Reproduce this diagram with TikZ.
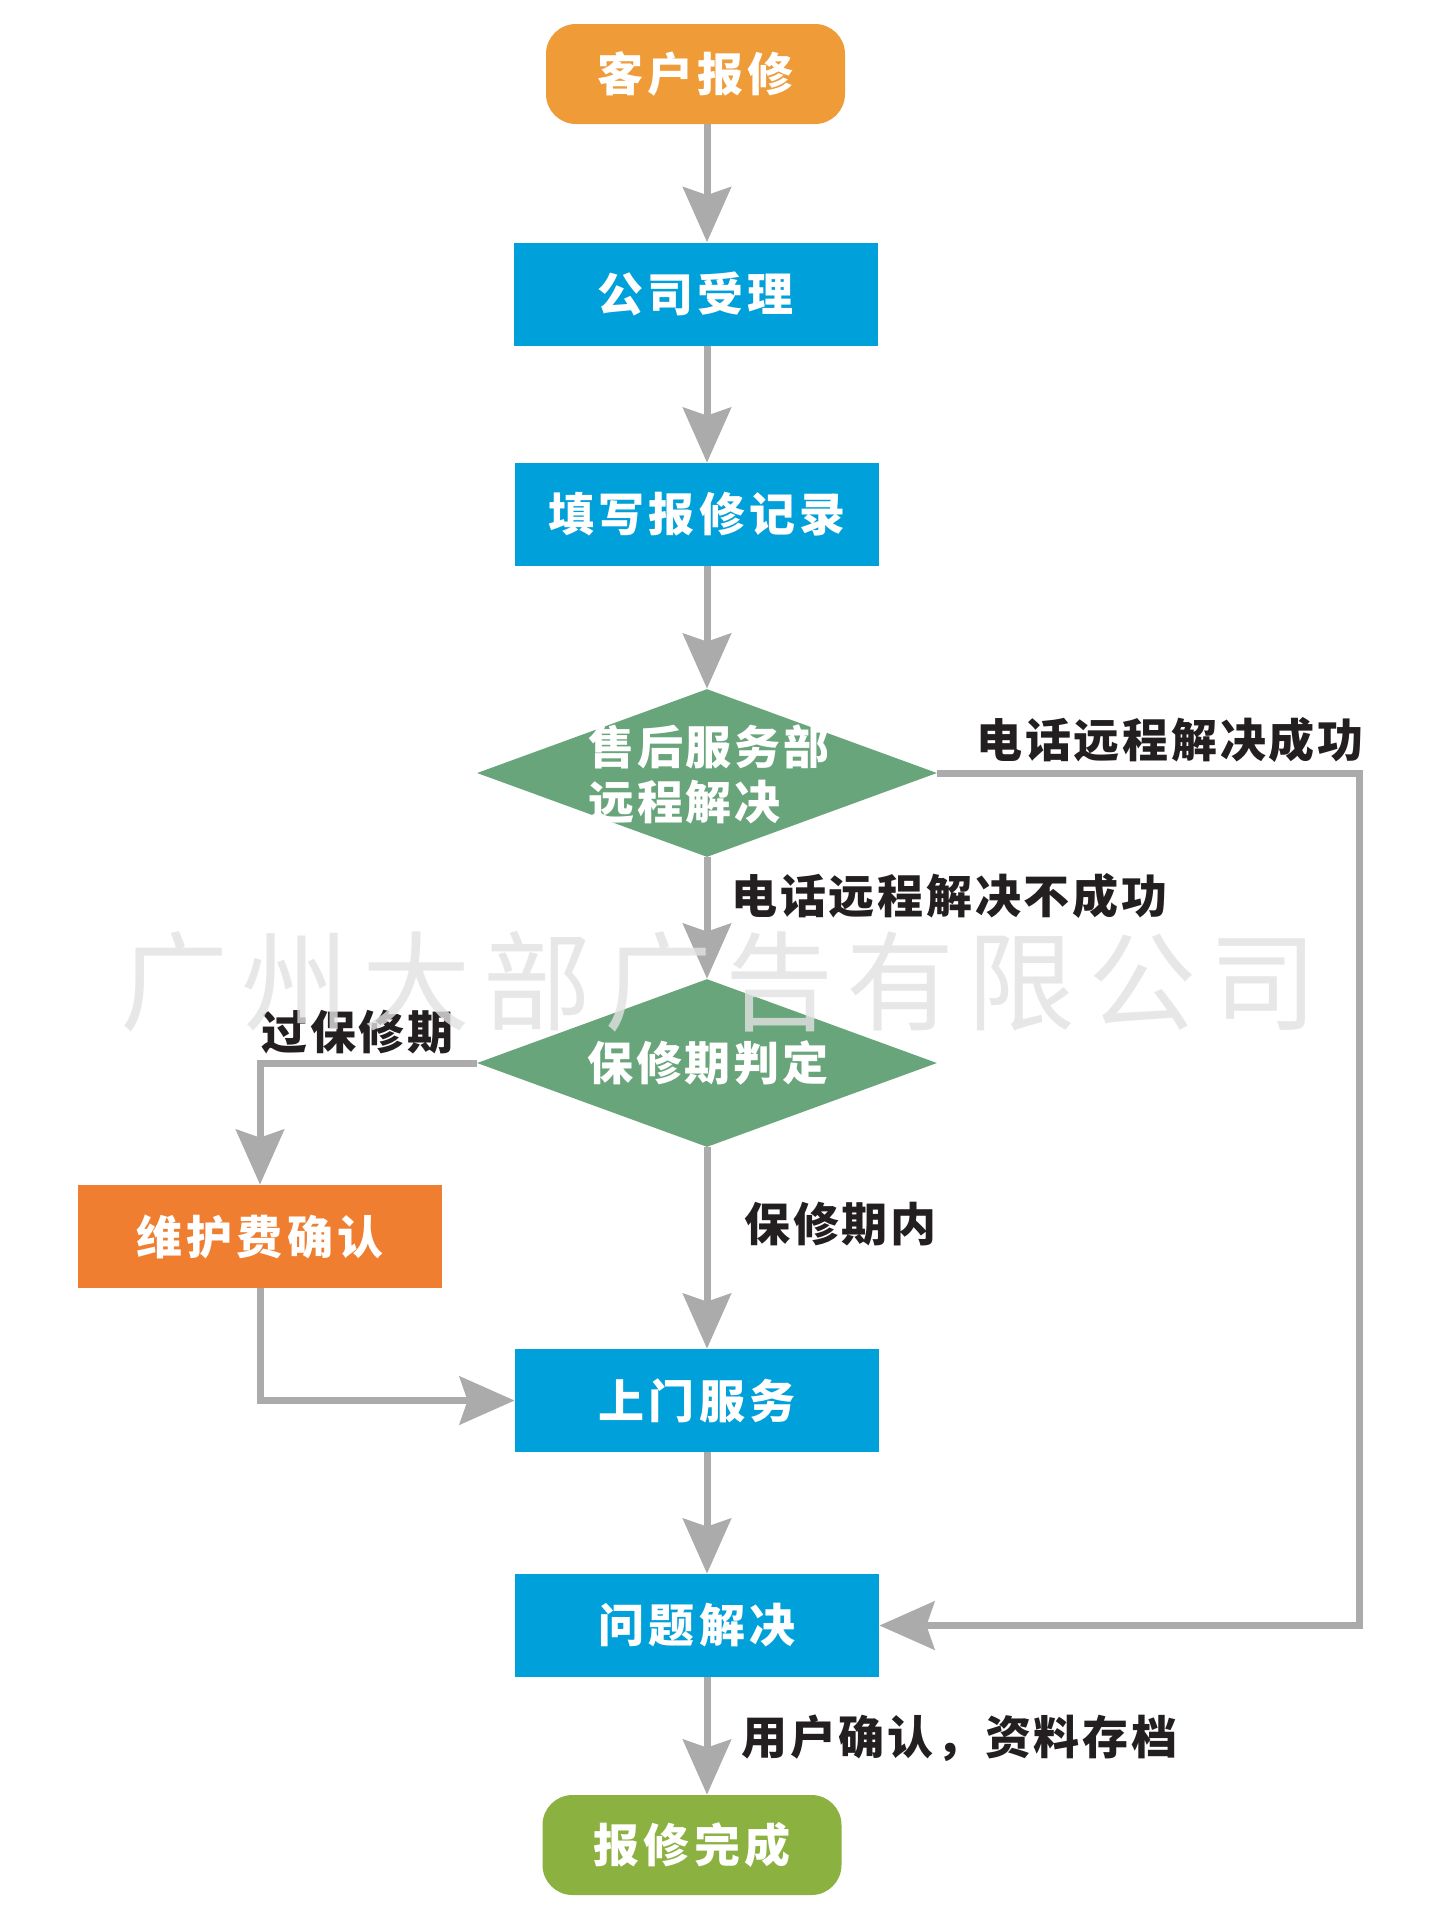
\documentclass[tikz,border=0pt]{standalone}
\usepackage{fontspec}
\usetikzlibrary{arrows.meta,shapes.geometric}
\newfontfamily\cjkbox{Noto Sans CJK SC}[LetterSpace=9]
\newfontfamily\cjklab{Noto Sans CJK SC}[LetterSpace=6]
\newfontfamily\cjkwm{Noto Sans CJK SC}[LetterSpace=12]
\definecolor{cStart}{HTML}{EF9B38}
\definecolor{cBlue}{HTML}{00A0DA}
\definecolor{cDia}{HTML}{69A57B}
\definecolor{cFee}{HTML}{F07E30}
\definecolor{cEnd}{HTML}{8BB140}
\definecolor{cLine}{HTML}{ABABAB}
\definecolor{cText}{HTML}{231F20}
\definecolor{cWm}{HTML}{E2E2E2}
\begin{document}
\begin{tikzpicture}[x=0.5pt,y=-0.5pt,
  box/.style={rectangle, inner sep=0, minimum width=182pt, minimum height=51.5pt, fill=cBlue, text=white, font=\cjkbox\bfseries\fontsize{23}{27}\selectfont},
  rbox/.style={box, rounded corners=15pt, minimum width=149.5pt, minimum height=50pt},
  dia/.style={diamond, aspect=2.738, inner sep=0, minimum width=230pt, minimum height=84pt, fill=cDia},
  diatext/.style={inner sep=0, text=white, font=\cjklab\bfseries\fontsize{23}{27.5}\selectfont},
  lab/.style={inner sep=0, anchor=west, text=cText, font=\cjklab\bfseries\fontsize{23}{27}\selectfont},
  arr/.style={draw=cLine, line width=3.5pt, -{Stealth[length=27.5pt, width=24pt, inset=4pt]}},
  wm/.style={inner sep=0, font=\cjkwm\fontsize{54}{60}\selectfont}
]
\path[use as bounding box, fill=white] (0,0) rectangle (1441,1919);

% nodes
\node[rbox, fill=cStart] (start) at (695.5,74) {客户报修};
\node[box] (accept) at (695.5,294) {公司受理};
\node[box] (record) at (697,514.5) {填写报修记录};
\node[dia] (d1) at (707,773) {};
\node[diatext, align=left] (d1t) at (709,774) {售后服务部\\远程解决};
\node[dia] (d2) at (707,1063) {};
\node[diatext] (d2t) at (708,1063) {保修期判定};
\node[box, fill=cFee] (fee) at (260,1236.5) {维护费确认};
\node[box] (visit) at (697,1400.5) {上门服务};
\node[box] (solve) at (697,1625.5) {问题解决};
\node[rbox, fill=cEnd] (done) at (692,1845) {报修完成};

\coordinate (rcol) at (1359,773);

% connectors
\draw[arr] (start.south -| d1.center) -- (accept.north -| d1.center);
\draw[arr] (accept.south -| d1.center) -- (record.north -| d1.center);
\draw[arr] (record.south -| d1.center) -- (d1.north);
\draw[arr] (d1.south) -- (d2.north);
\draw[arr] (d1.east) -| (rcol |- solve.east) -- (solve.east);
\draw[arr] (d2.west) -| (fee.north);
\draw[arr] (fee.south) |- (visit.west);
\draw[arr] (d2.south) -- (visit.north -| d2.center);
\draw[arr] (visit.south -| d1.center) -- (solve.north -| d1.center);
\draw[arr] (solve.south -| d1.center) -- (done.north -| d1.center);

% labels
\node[lab] (l1) at (976,740) {电话远程解决成功};
\node[lab] (l2) at (731,896) {电话远程解决不成功};
\node[lab] (l3) at (261,1032) {过保修期};
\node[lab] (l4) at (744,1224) {保修期内};
\node[lab] (l5) at (741,1738) {用户确认，资料存档};

% watermark
\node[wm, text=cWm, opacity=0.8] (wm) at (719,982) {广州大部广告有限公司};
\end{tikzpicture}
\end{document}
